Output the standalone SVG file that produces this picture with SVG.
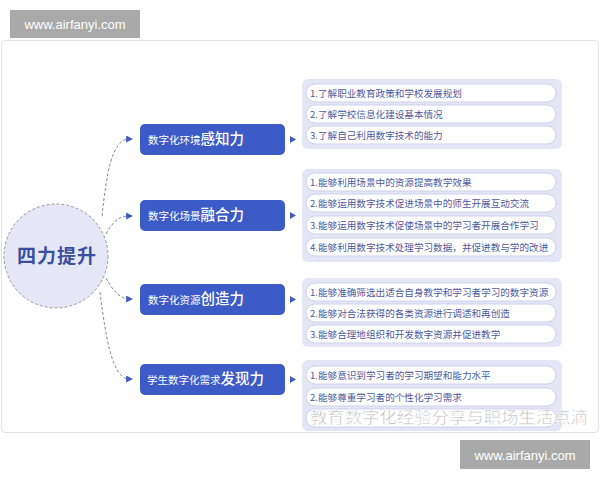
<svg xmlns="http://www.w3.org/2000/svg" width="600" height="480" viewBox="0 0 600 480">
<defs>
<marker id="ah" viewBox="0 0 8 8" refX="1" refY="4" markerWidth="7" markerHeight="7" markerUnits="userSpaceOnUse" orient="0">
<path d="M0,0 L8,4 L0,8 Z" fill="#3f5bc4"/>
</marker>
<style>
.cjk{font-family:"Noto Sans CJK SC","Noto Sans",sans-serif}
.cat rect{fill:#3d5bc6}
.cat text{fill:#fff}
.sm{font-size:10.5px}
.bg{font-size:14.5px;font-weight:500}
.panel{fill:#e4e6f5}
.item rect{fill:#fff;stroke:#cdd1ec;stroke-width:1}
.item text{fill:#4d5a9c;font-size:9.6px}
.conn{fill:none;stroke:#8a8a8a;stroke-width:1;stroke-dasharray:3 2}
.ra{fill:#3f5bc4}
.wm rect{fill:#a9a9a9}
.wm text{fill:#fff;font-family:"Liberation Sans",Arial,sans-serif;font-size:13px}
</style>
</defs>
<rect x="0" y="0" width="600" height="480" fill="#fff"/>
<rect x="1.5" y="40.5" width="597" height="392" rx="4" fill="#fff" stroke="#e2e2e2"/>

<g id="connectors">
<path class="conn" d="M102,216 C107,170 112,143 127,139" marker-end="url(#ah)"/>
<path class="conn" d="M106,234 C112,223 118,217 127,216" marker-end="url(#ah)"/>
<path class="conn" d="M106,278 C112,289 118,297 127,299" marker-end="url(#ah)"/>
<path class="conn" d="M100,292 C106,340 112,374 127,379" marker-end="url(#ah)"/>
<path class="ra" d="M290,136 L296,139.5 L290,143 Z"/>
<path class="ra" d="M290,212 L296,215.5 L290,219 Z"/>
<path class="ra" d="M290,296 L296,299.5 L290,303 Z"/>
<path class="ra" d="M290,376 L296,379.5 L290,383 Z"/>
</g>

<g id="center">
<circle cx="56" cy="256" r="52" fill="#e5e7f6" stroke="#9a9a9a" stroke-width="1" stroke-dasharray="3 2"/>
<text x="57" y="263" text-anchor="middle" class="cjk" font-size="19" font-weight="bold" fill="#3a4fa0" letter-spacing="1">四力提升</text>
</g>

<g id="cat1" class="cat cjk">
<rect x="140" y="124" width="145" height="31" rx="5"/>
<text x="148" y="144"><tspan class="sm">数字化环境</tspan><tspan class="bg">感知力</tspan></text>
</g>
<g id="cat2" class="cat cjk">
<rect x="140" y="200" width="145" height="31" rx="5"/>
<text x="148" y="220"><tspan class="sm">数字化场景</tspan><tspan class="bg">融合力</tspan></text>
</g>
<g id="cat3" class="cat cjk">
<rect x="140" y="284" width="145" height="31" rx="5"/>
<text x="148" y="304"><tspan class="sm">数字化资源</tspan><tspan class="bg">创造力</tspan></text>
</g>
<g id="cat4" class="cat cjk">
<rect x="140" y="364" width="145" height="31" rx="5"/>
<text x="147" y="384"><tspan class="sm">学生数字化需求</tspan><tspan class="bg">发现力</tspan></text>
</g>

<g id="list1" class="cjk">
<rect class="panel" x="302" y="79" width="260" height="70" rx="6"/>
<g class="item"><rect x="306" y="84" width="250" height="18" rx="9"/><text x="310" y="96.5">1.了解职业教育政策和学校发展规划</text></g>
<g class="item"><rect x="306" y="105" width="250" height="18" rx="9"/><text x="310" y="117.5">2.了解学校信息化建设基本情况</text></g>
<g class="item"><rect x="306" y="126" width="250" height="18" rx="9"/><text x="310" y="138.5">3.了解自己利用数字技术的能力</text></g>
</g>

<g id="list2" class="cjk">
<rect class="panel" x="302" y="169" width="260" height="93" rx="6"/>
<g class="item"><rect x="306" y="173" width="250" height="18" rx="9"/><text x="310" y="185.5">1.能够利用场景中的资源提高教学效果</text></g>
<g class="item"><rect x="306" y="194" width="250" height="18" rx="9"/><text x="310" y="206.5">2.能够运用数字技术促进场景中的师生开展互动交流</text></g>
<g class="item"><rect x="306" y="216" width="250" height="18" rx="9"/><text x="310" y="228.5">3.能够运用数字技术促使场景中的学习者开展合作学习</text></g>
<g class="item"><rect x="306" y="238" width="250" height="18" rx="9"/><text x="310" y="250.5">4.能够利用数字技术处理学习数据，并促进教与学的改进</text></g>
</g>

<g id="list3" class="cjk">
<rect class="panel" x="302" y="278" width="260" height="69" rx="6"/>
<g class="item"><rect x="306" y="283" width="250" height="18" rx="9"/><text x="310" y="295.5">1.能够准确筛选出适合自身教学和学习者学习的数字资源</text></g>
<g class="item"><rect x="306" y="304" width="250" height="18" rx="9"/><text x="310" y="316.5">2.能够对合法获得的各类资源进行调适和再创造</text></g>
<g class="item"><rect x="306" y="325" width="250" height="18" rx="9"/><text x="310" y="337.5">3.能够合理地组织和开发数字资源并促进教学</text></g>
</g>

<g id="list4" class="cjk">
<rect class="panel" x="302" y="360" width="260" height="71" rx="6"/>
<g class="item"><rect x="306" y="366" width="250" height="18" rx="9"/><text x="310" y="378.5">1.能够意识到学习者的学习期望和能力水平</text></g>
<g class="item"><rect x="306" y="388" width="250" height="18" rx="9"/><text x="310" y="400.5">2.能够尊重学习者的个性化学习需求</text></g>
<g class="item"><rect x="306" y="409" width="250" height="18" rx="9"/></g>
</g>

<text x="310" y="423" class="cjk" font-size="16" textLength="278" lengthAdjust="spacingAndGlyphs" fill="#8e8e8e" fill-opacity="0.8" stroke="#fff" stroke-width="0.6">教育数字化经验分享与职场生活点滴</text>

<g id="wm1" class="wm">
<rect x="10" y="10" width="130" height="28"/>
<text x="75" y="29" text-anchor="middle">www.airfanyi.com</text>
</g>
<g id="wm2" class="wm">
<rect x="460" y="440" width="130" height="29"/>
<text x="525" y="460" text-anchor="middle">www.airfanyi.com</text>
</g>
</svg>
